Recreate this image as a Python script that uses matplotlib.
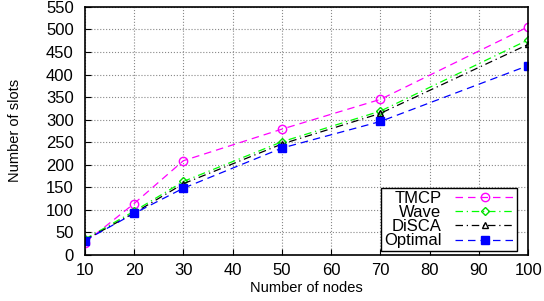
import matplotlib
matplotlib.use('Agg')
import matplotlib.pyplot as plt

plt.rcParams['font.family'] = ['Liberation Sans', 'DejaVu Sans']

nodes = [10, 20, 30, 50, 70, 100]
tmcp = [27, 114, 209, 279, 345, 506]
wave = [35, 97, 163, 251, 319, 477]
disca = [33, 93, 158, 246, 314, 467]
optimal = [32, 92, 148, 237, 296, 420]

fig = plt.figure(figsize=(5.44, 3.01), dpi=100)
ax = fig.add_axes([0.156, 0.153, 0.815, 0.824])

ax.plot(nodes, tmcp, color='#ff00ff', ls=(0, (6, 4)), lw=0.9, marker='o',
        mfc='none', mec='#ff00ff', ms=6, label='TMCP')
ax.plot(nodes, wave, color='#00ff00', ls=(0, (6, 3, 1, 3)), lw=0.9, marker='D',
        mfc='none', mec='#00dd00', ms=4.5, label='Wave')
ax.plot(nodes, disca, color='black', ls=(0, (6, 3, 1, 3)), lw=0.9, marker='^',
        mfc='none', mec='black', ms=5, label='DiSCA')
ax.plot(nodes, optimal, color='#0000ff', ls=(0, (6, 4)), lw=0.9, marker='s',
        mfc='#0000ff', mec='#0000ff', ms=5.5, label='Optimal')

ax.set_xlim(10, 100)
ax.set_ylim(0, 550)
ax.set_xticks(range(10, 101, 10))
ax.set_yticks(range(0, 551, 50))
ax.tick_params(labelsize=12, direction='in', length=4)
ax.tick_params(axis='y', pad=8)
ax.tick_params(axis='x', pad=6)
ax.grid(True, color='#888888', ls=':', lw=0.8)
for s in ax.spines.values():
    s.set_linewidth(1.2)

ax.set_xlabel('Number of nodes', fontsize=10.5, labelpad=2)
ax.set_ylabel('Number of slots', fontsize=10.5, labelpad=17)

leg = ax.legend(loc='lower right', bbox_to_anchor=(0.975, 0.016),
                markerfirst=False, fontsize=12,
                fancybox=False, edgecolor='black', framealpha=1,
                borderpad=0.15, labelspacing=-0.05, handlelength=3.6,
                handletextpad=0.8, borderaxespad=0.0)
leg.get_frame().set_linewidth(1.0)

fig.savefig('out.png', dpi=100)
